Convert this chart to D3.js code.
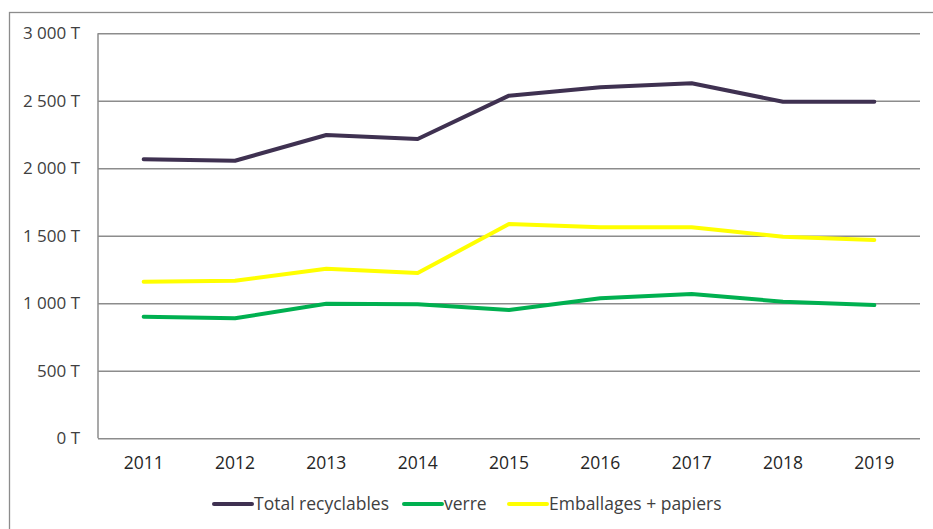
<!DOCTYPE html>
<html>
<head>
<meta charset="utf-8">
<script src="https://cdn.jsdelivr.net/npm/d3@7"></script>
<style>
  body { margin: 0; background: #fff; }
  svg { display: block; }
</style>
</head>
<body>
<div id="vis"></div>
<script>
// data (tonnes)
let years = ['2011', '2012', '2013', '2014', '2015', '2016', '2017', '2018', '2019'];
let totalRecyclables = [2067, 2056, 2247, 2217, 2538, 2600, 2630, 2493, 2493];
let verre = [901, 889, 997, 993, 950, 1037, 1069, 1012, 987];
let emballages = [1160, 1167, 1256, 1224, 1587, 1563, 1563, 1493, 1469];
let yTicks = [0, 500, 1000, 1500, 2000, 2500, 3000];

let series = [
  { name: 'Total recyclables', values: totalRecyclables, color: '#3f3151' },
  { name: 'verre', values: verre, color: '#00b050' },
  { name: 'Emballages + papiers', values: emballages, color: '#ffff00' }
];
// draw order: yellow, green, then total on top
let drawOrder = [series[2], series[1], series[0]];

let W = 933, H = 529;
let plot = { left: 98, right: 920, top: 33.3, bottom: 438.3 };
let font = '"Open Sans", Lato, sans-serif';

let svg = d3.select('#vis')
  .append('svg')
  .attr('width', W)
  .attr('height', H);

// outer chart border
svg.append('rect')
  .attr('x', 9.5).attr('y', 12.5)
  .attr('width', 940).attr('height', 540)
  .attr('fill', 'none')
  .attr('stroke', '#8c8c8c')
  .attr('stroke-width', 1.3);

let x = d3.scaleBand().domain(years).range([plot.left, plot.right]);
let y = d3.scaleLinear().domain([0, 3000]).range([plot.bottom, plot.top]);

let fmt = d => d3.format(',')(d).replace(/,/g, ' ') + ' T';

// gridlines + y labels
let yAxis = svg.append('g')
  .attr('transform', 'translate(' + plot.left + ',0)')
  .call(d3.axisLeft(y).tickValues(yTicks).tickSize(-(plot.right - plot.left)).tickPadding(18).tickFormat(fmt));
yAxis.select('.domain').remove();
yAxis.selectAll('.tick line')
  .attr('stroke', '#8c8c8c')
  .attr('stroke-width', 1.5);
yAxis.selectAll('.tick text')
  .attr('fill', '#404040')
  .style('font-family', font)
  .style('font-size', '17px');

// left axis line
svg.append('line')
  .attr('x1', plot.left).attr('x2', plot.left)
  .attr('y1', plot.top).attr('y2', plot.bottom)
  .attr('stroke', '#8c8c8c')
  .attr('stroke-width', 1.5);

// x labels
let xAxis = svg.append('g')
  .attr('transform', 'translate(0,' + plot.bottom + ')')
  .call(d3.axisBottom(x).tickSize(0).tickPadding(18));
xAxis.select('.domain').remove();
xAxis.selectAll('.tick text')
  .attr('fill', '#262626')
  .style('font-family', font)
  .style('font-size', '17.5px');

let line = d3.line()
  .x((d, i) => x(years[i]) + x.bandwidth() / 2)
  .y(d => y(d));

svg.append('g')
  .selectAll('path')
  .data(drawOrder)
  .enter()
  .append('path')
  .attr('d', d => line(d.values))
  .attr('fill', 'none')
  .attr('stroke', d => d.color)
  .attr('stroke-width', 4)
  .attr('stroke-linejoin', 'round')
  .attr('stroke-linecap', 'round');

// legend
let legendX = [214, 404, 509];
let legend = svg.append('g')
  .selectAll('g')
  .data(series)
  .enter()
  .append('g')
  .attr('transform', (d, i) => 'translate(' + legendX[i] + ',504)');
legend.append('line')
  .attr('x1', 0).attr('x2', 38)
  .attr('stroke', d => d.color)
  .attr('stroke-width', 4)
  .attr('stroke-linecap', 'round');
legend.append('text')
  .attr('x', 40)
  .attr('dy', '0.35em')
  .attr('fill', '#404040')
  .style('font-family', font)
  .style('font-size', '17.5px')
  .text(d => d.name);
</script>
</body>
</html>
